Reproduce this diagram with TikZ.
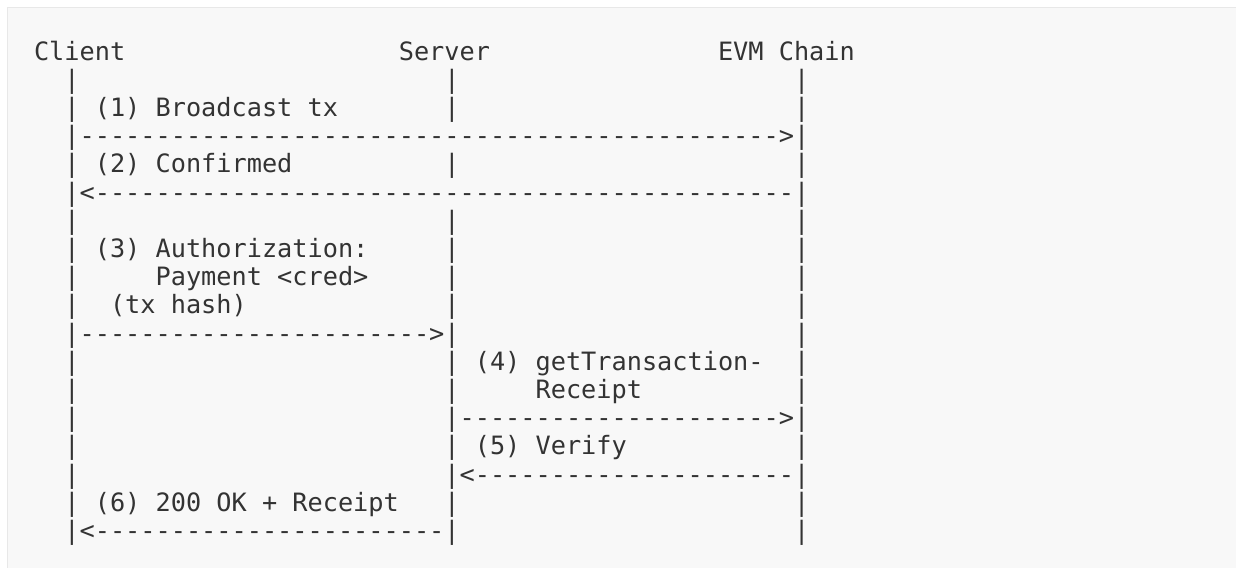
\documentclass[tikz,border=0pt]{standalone}
\usepackage{fontspec}
\setmonofont{DejaVu Sans Mono}
\definecolor{ink}{HTML}{333333}
\definecolor{prebg}{HTML}{F8F8F8}
\definecolor{preedge}{HTML}{E8E8E8}
% a run of n hyphens, used for the message arrows
\newcommand\dashrun[1]{\ifnum#1>0 -\expandafter\dashrun\expandafter{\the\numexpr#1-1\relax}\fi}
\tikzset{
  glyphs/.style={anchor=base west, inner sep=0pt, outer sep=0pt, text=ink,
    font=\ttfamily\fontsize{25.25}{28.2}\selectfont},
}
\begin{document}
\begin{tikzpicture}
\useasboundingbox (0,0) rectangle (1236pt,-568pt);
\fill[white] (0,0) rectangle (1236pt,-568pt);
\fill[prebg] (7pt,-7pt) rectangle (1236pt,-568pt);
\draw[preedge, line width=1pt] (7.5pt,-568pt) -- (7.5pt,-7.5pt) -- (1236pt,-7.5pt);

% character grid: x = column, y = line
\begin{scope}[x=15.2pt, y=-28.2pt, shift={(34pt,-31.8pt)}]
  % participants
  \node[glyphs] (client) at (0,1) {Client};
  \node[glyphs] (server) at (24,1) {Server};
  \node[glyphs] (chain)  at (45,1) {EVM Chain};

  % lifelines
  \foreach \r in {2,...,18}
    \node[glyphs] (clientline\r) at (2,\r) {|};
  \foreach \r in {2,3,5,7,8,9,10,11,12,13,14,15,16,17,18}
    \node[glyphs] (serverline\r) at (27,\r) {|};
  \foreach \r in {2,...,18}
    \node[glyphs] (chainline\r) at (50,\r) {|};

  % messages
  \node[glyphs] (m1)  at (4,3)   {(1) Broadcast tx};
  \node[glyphs] (a1)  at (3,4)   {\dashrun{46}>};
  \node[glyphs] (m2)  at (4,5)   {(2) Confirmed};
  \node[glyphs] (a2)  at (3,6)   {<\dashrun{46}};
  \node[glyphs] (m3)  at (4,8)   {(3) Authorization:};
  \node[glyphs] (m3b) at (8,9)   {Payment <cred>};
  \node[glyphs] (m3c) at (5,10)  {(tx hash)};
  \node[glyphs] (a3)  at (3,11)  {\dashrun{23}>};
  \node[glyphs] (m4)  at (29,12) {(4) getTransaction-};
  \node[glyphs] (m4b) at (33,13) {Receipt};
  \node[glyphs] (a4)  at (28,14) {\dashrun{21}>};
  \node[glyphs] (m5)  at (29,15) {(5) Verify};
  \node[glyphs] (a5)  at (28,16) {<\dashrun{21}};
  \node[glyphs] (m6)  at (4,17)  {(6) 200 OK + Receipt};
  \node[glyphs] (a6)  at (3,18)  {<\dashrun{23}};
\end{scope}
\end{tikzpicture}
\end{document}
